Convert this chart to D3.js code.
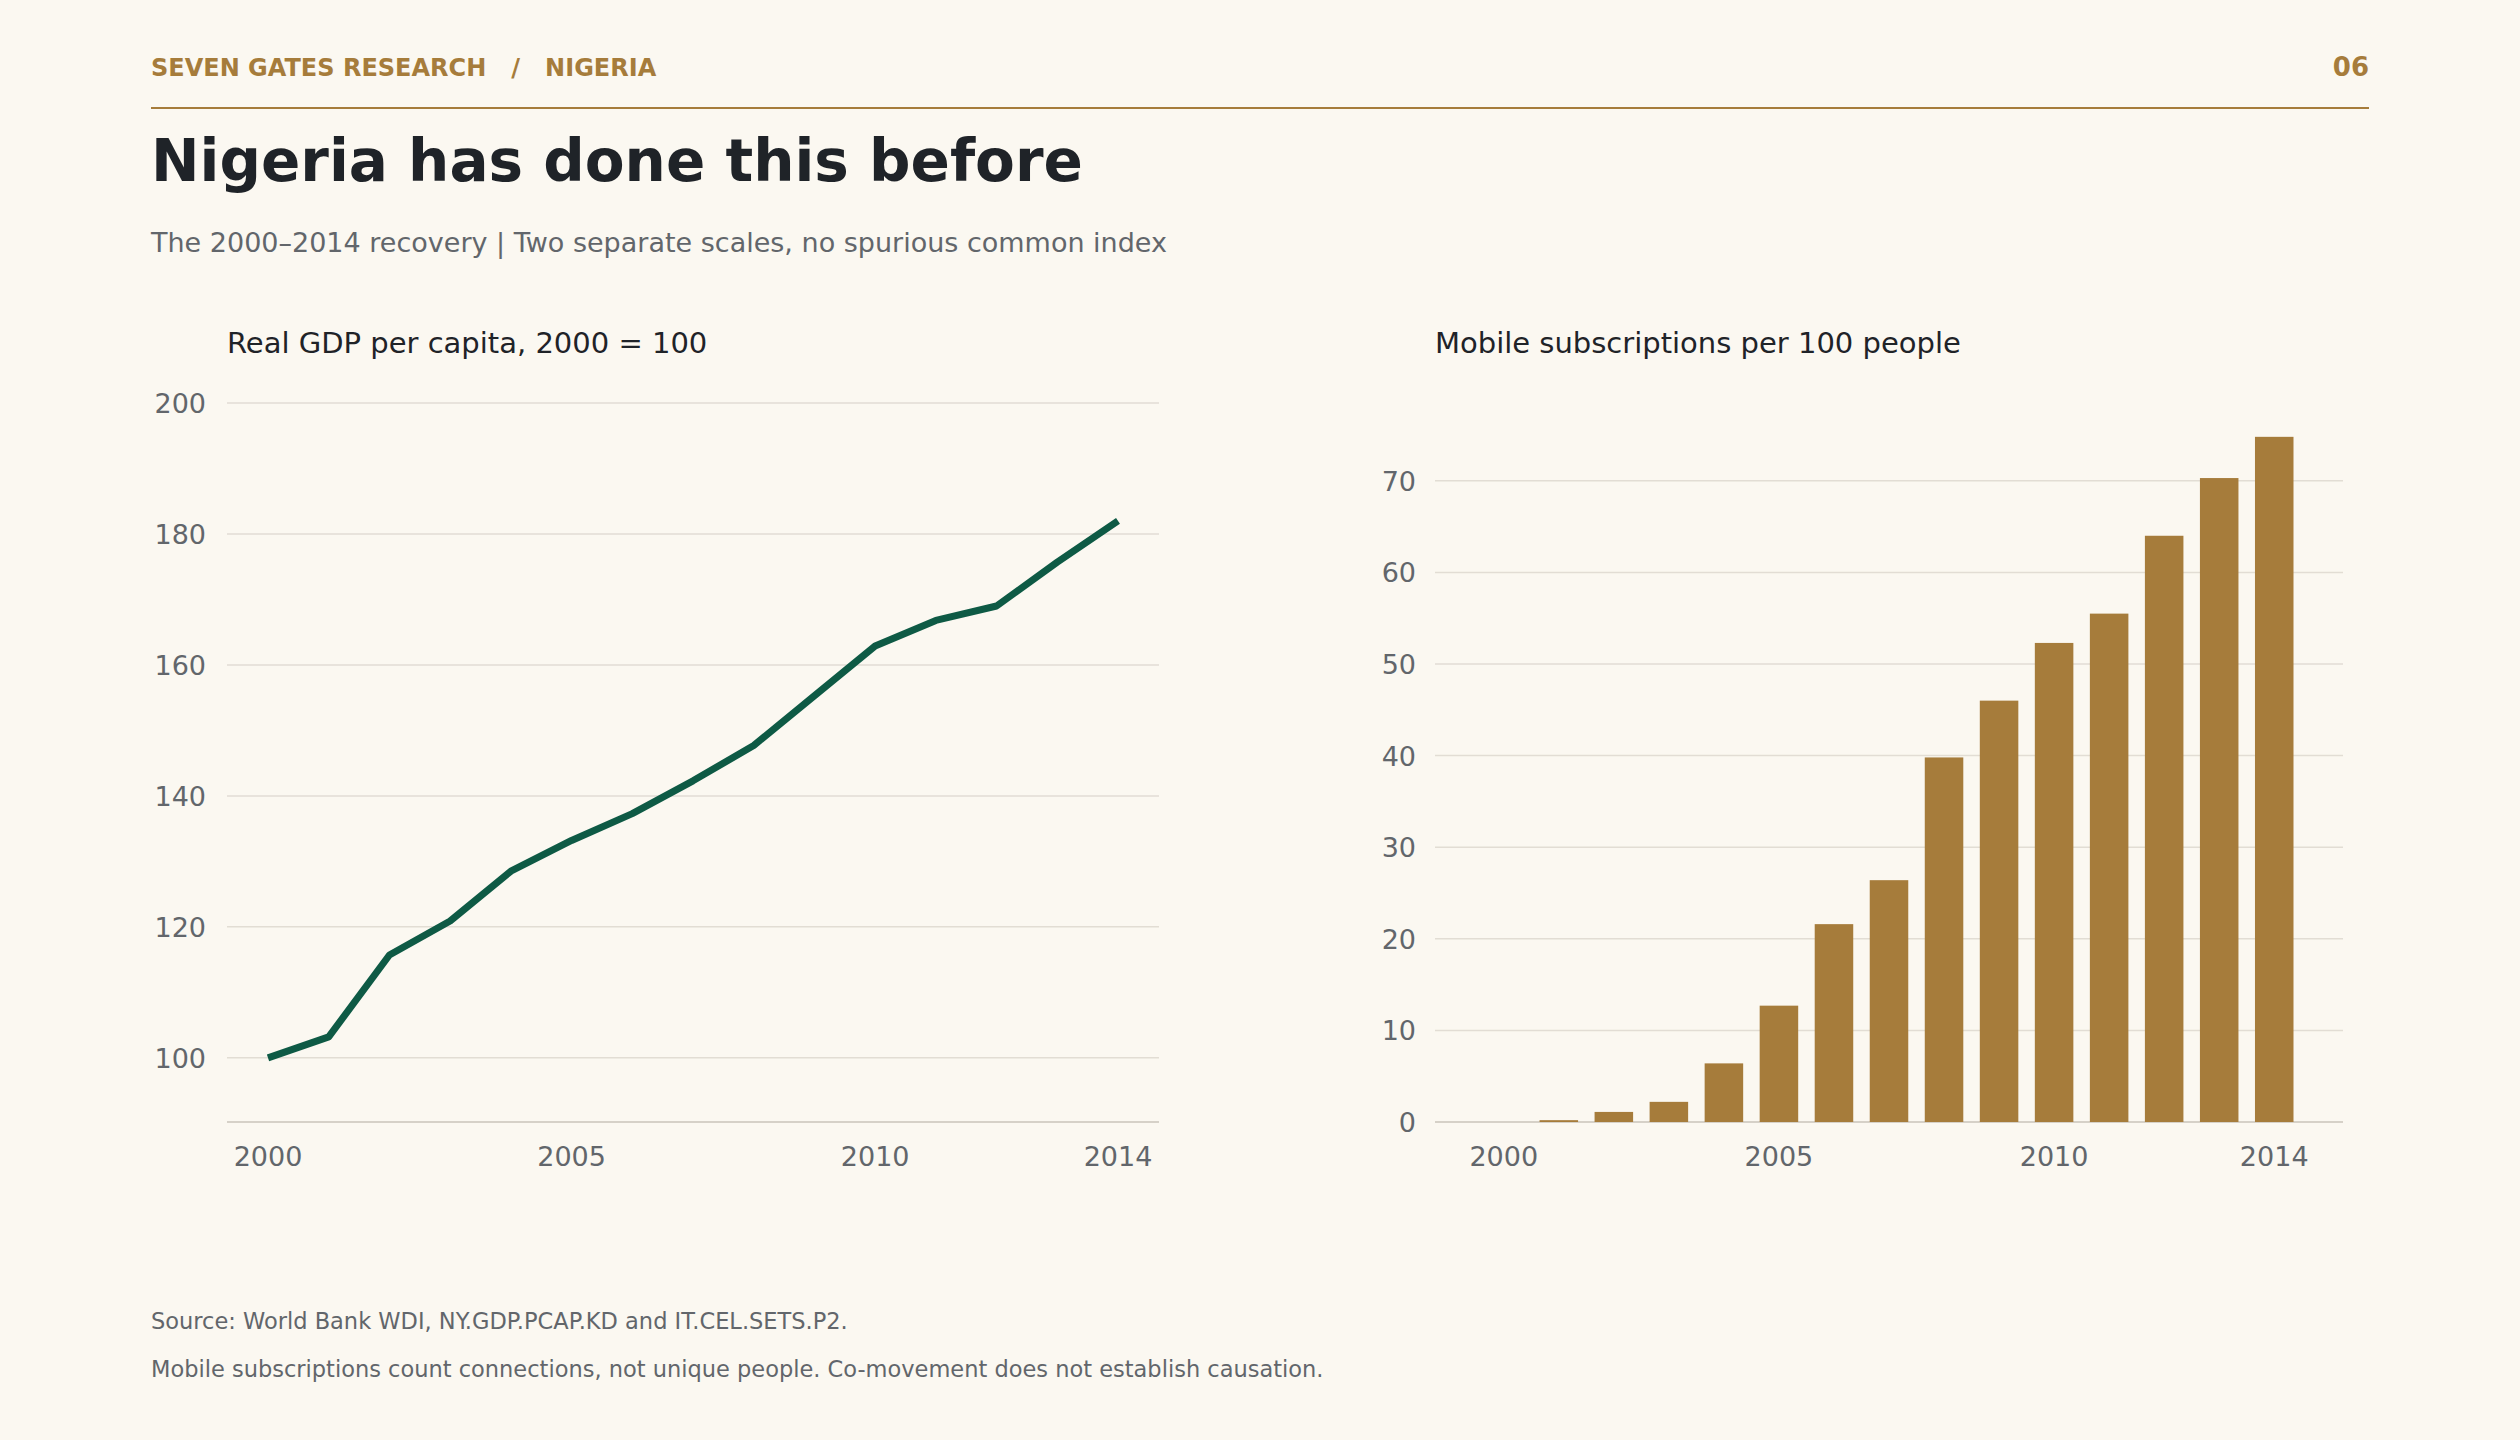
<!DOCTYPE html>
<html>
<head>
<meta charset="utf-8">
<script src="https://cdn.jsdelivr.net/npm/d3@7"></script>
<style>
  body { margin: 0; background: #fbf8f1; }
  svg { font-family: "DejaVu Sans", sans-serif; }
</style>
</head>
<body>
<div id="chart"></div>
<script>
// data
var years = [2000, 2001, 2002, 2003, 2004, 2005, 2006, 2007, 2008, 2009, 2010, 2011, 2012, 2013, 2014];
var gdpIndex = [100, 103.2, 115.7, 120.9, 128.5, 133.2, 137.3, 142.3, 147.7, 155.3, 162.9, 166.8, 169.0, 175.7, 182.0];
var mobileSubs = [0, 0.2, 1.1, 2.2, 6.4, 12.7, 21.6, 26.4, 39.8, 46.0, 52.3, 55.5, 64.0, 70.3, 74.8];
var gdpTicks = [100, 120, 140, 160, 180, 200];
var mobileTicks = [0, 10, 20, 30, 40, 50, 60, 70];
var yearTicks = [2000, 2005, 2010, 2014];

var W = 2520, H = 1440;
var gold = "#a67c3b", green = "#0e5a45", grey = "#62666b", grid = "#e2ddd4";

var svg = d3.select("#chart").append("svg")
  .attr("width", W).attr("height", H);
svg.append("rect").attr("width", W).attr("height", H).attr("fill", "#fbf8f1");

// header
svg.append("text").attr("x", 151).attr("y", 76)
  .attr("font-size", 24).attr("font-weight", "bold").attr("fill", gold)
  .attr("xml:space", "preserve")
  .text("SEVEN GATES RESEARCH   /   NIGERIA");
svg.append("text").attr("x", 2369).attr("y", 76).attr("text-anchor", "end")
  .attr("font-size", 26).attr("font-weight", "bold").attr("fill", gold).text("06");
svg.append("line").attr("x1", 151).attr("x2", 2369).attr("y1", 108).attr("y2", 108)
  .attr("stroke", gold).attr("stroke-width", 2);

svg.append("text").attr("x", 151).attr("y", 181)
  .attr("font-size", 58).attr("font-weight", "bold").attr("fill", "#1f2328")
  .text("Nigeria has done this before");
svg.append("text").attr("x", 151).attr("y", 252)
  .attr("font-size", 27).attr("fill", grey)
  .text("The 2000\u20132014 recovery  |  Two separate scales, no spurious common index");

// left: GDP line
var gx0 = 227, gx1 = 1159, gTop = 403, gBot = 1122;
svg.append("text").attr("x", gx0).attr("y", 353).attr("font-size", 29).attr("fill", "#1f2328")
  .text("Real GDP per capita, 2000 = 100");

var xL = d3.scaleLinear().domain([2000, 2014]).range([268, 1118]);
var yL = d3.scaleLinear().domain([90.2, 200]).range([gBot, gTop]);

var gl = svg.append("g");
gl.selectAll(".grid").data(gdpTicks).enter().append("line")
  .attr("x1", gx0).attr("x2", gx1)
  .attr("y1", function(d) { return yL(d); }).attr("y2", function(d) { return yL(d); })
  .attr("stroke", grid).attr("stroke-width", 1.5);
gl.append("line").attr("x1", gx0).attr("x2", gx1).attr("y1", gBot).attr("y2", gBot)
  .attr("stroke", "#d6d1c8").attr("stroke-width", 2);
gl.selectAll(".yl").data(gdpTicks).enter().append("text")
  .attr("x", 206).attr("y", function(d) { return yL(d) + 10; })
  .attr("text-anchor", "end").attr("font-size", 27).attr("fill", grey)
  .text(function(d) { return d; });
gl.selectAll(".xl").data(yearTicks).enter().append("text")
  .attr("x", function(d) { return xL(d); }).attr("y", 1166)
  .attr("text-anchor", "middle").attr("font-size", 27).attr("fill", grey)
  .text(function(d) { return d; });

var line = d3.line()
  .x(function(d, i) { return xL(years[i]); })
  .y(function(d) { return yL(d); });
gl.append("path").datum(gdpIndex).attr("d", line)
  .attr("fill", "none").attr("stroke", green).attr("stroke-width", 7)
  .attr("stroke-linejoin", "round");

// right: mobile bars
var mx0 = 1435, mx1 = 2343;
svg.append("text").attr("x", mx0).attr("y", 353).attr("font-size", 29).attr("fill", "#1f2328")
  .text("Mobile subscriptions per 100 people");

var xR = d3.scaleBand().domain(years).range([1468, 2310]).padding(0.3);
var yR = d3.scaleLinear().domain([0, 75]).range([gBot, 435]);

var gr = svg.append("g");
gr.selectAll(".grid").data(mobileTicks).enter().append("line")
  .attr("x1", mx0).attr("x2", mx1)
  .attr("y1", function(d) { return yR(d); }).attr("y2", function(d) { return yR(d); })
  .attr("stroke", function(d) { return d === 0 ? "#d6d1c8" : grid; })
  .attr("stroke-width", function(d) { return d === 0 ? 2 : 1.5; });
gr.selectAll(".yl").data(mobileTicks).enter().append("text")
  .attr("x", 1416).attr("y", function(d) { return yR(d) + 10; })
  .attr("text-anchor", "end").attr("font-size", 27).attr("fill", grey)
  .text(function(d) { return d; });
gr.selectAll(".xl").data(yearTicks).enter().append("text")
  .attr("x", function(d) { return xR(d) + xR.bandwidth() / 2; }).attr("y", 1166)
  .attr("text-anchor", "middle").attr("font-size", 27).attr("fill", grey)
  .text(function(d) { return d; });
gr.selectAll(".bar").data(mobileSubs).enter().append("rect")
  .attr("x", function(d, i) { return xR(years[i]); })
  .attr("width", xR.bandwidth())
  .attr("y", function(d) { return yR(d); })
  .attr("height", function(d) { return gBot - yR(d); })
  .attr("fill", gold);

// footer
svg.append("text").attr("x", 151).attr("y", 1329).attr("font-size", 22.5).attr("fill", grey)
  .text("Source: World Bank WDI, NY.GDP.PCAP.KD and IT.CEL.SETS.P2.");
svg.append("text").attr("x", 151).attr("y", 1377).attr("font-size", 22.5).attr("fill", grey)
  .text("Mobile subscriptions count connections, not unique people. Co-movement does not establish causation.");
</script>
</body>
</html>
